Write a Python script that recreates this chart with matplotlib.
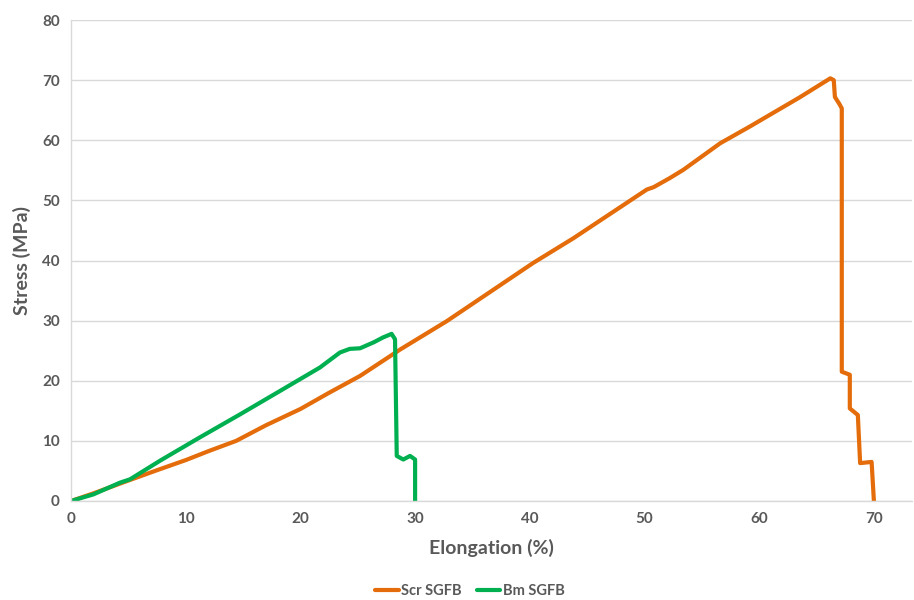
import matplotlib
matplotlib.use("Agg")
import matplotlib.pyplot as plt

# Data
scr_x = [0, 2, 4.85, 7.76, 10, 12, 14.4, 17, 20, 22.5, 25.2, 28.7, 32.75, 40.3, 43.8,
         50.2, 50.8, 52.2, 53.4, 56.6, 59.2, 63.5, 66.2, 66.5, 66.6, 67.0, 67.2, 67.2,
         67.9, 67.9, 68.6, 68.8, 69.8, 70.0]
scr_y = [0, 1.3, 3.3, 5.3, 6.8, 8.3, 10, 12.6, 15.3, 18.0, 20.8, 25.2, 29.9, 39.6, 43.7,
         51.8, 52.2, 53.7, 55.1, 59.5, 62.3, 67.1, 70.3, 70.0, 67.2, 66.0, 65.3, 21.5,
         21.0, 15.4, 14.3, 6.3, 6.5, 0]

bm_x = [0, 1.95, 4.27, 5.14, 7.76, 11.25, 14.73, 18.22, 21.7, 23.45, 24.3, 25.2,
        26.4, 27.2, 27.95, 28.25, 28.4, 28.97, 29.56, 30.0, 30.0]
bm_y = [0, 1.1, 3.05, 3.6, 6.7, 10.6, 14.4, 18.3, 22.2, 24.7, 25.3, 25.4,
        26.4, 27.2, 27.8, 26.9, 7.5, 6.9, 7.5, 6.9, 0]

x_ticks = [0, 10, 20, 30, 40, 50, 60, 70]
y_ticks = [0, 10, 20, 30, 40, 50, 60, 70, 80]
series_names = ["Scr SGFB", "Bm SGFB"]
colors = ["#E46C0A", "#00B050"]

plt.rcParams['font.family'] = ['Lato', 'DejaVu Sans']

fig = plt.figure(figsize=(9.14, 6.0), dpi=100)
ax = fig.add_axes([71/914, 1-501/600, (912-71)/914, (501-20)/600])

ax.plot(scr_x, scr_y, color=colors[0], lw=3.0, label=series_names[0],
        solid_joinstyle='round', solid_capstyle='round')
ax.plot(bm_x, bm_y, color=colors[1], lw=3.0, label=series_names[1],
        solid_joinstyle='round', solid_capstyle='round')

ax.set_xlim(0, (912-71)/11.47)
ax.set_ylim(0, 80)
ax.set_xticks(x_ticks)
ax.set_yticks(y_ticks)
ax.grid(axis='y', color='#D9D9D9', lw=1)
ax.set_axisbelow(True)
for s in ['top', 'right']:
    ax.spines[s].set_visible(False)
for s in ['bottom', 'left']:
    ax.spines[s].set_color('#D9D9D9')
    ax.spines[s].set_linewidth(1)
ax.tick_params(length=0, colors='#595959', labelsize=11, pad=8)
for lab in ax.get_xticklabels() + ax.get_yticklabels():
    lab.set_fontweight('bold')

ax.set_xlabel("Elongation (%)", fontsize=14, fontweight='bold', color='#595959', labelpad=9)
ax.set_ylabel("Stress (MPa)", fontsize=14, fontweight='bold', color='#595959', labelpad=8)

leg = fig.legend(loc='center', bbox_to_anchor=(470/914, 1-591/600), ncol=2, frameon=False,
                 fontsize=10.5, handlelength=1.6, handletextpad=0.2, columnspacing=1.0)
for t in leg.get_texts():
    t.set_color('#595959')
    t.set_fontweight('bold')

fig.savefig("out.png", dpi=100)
